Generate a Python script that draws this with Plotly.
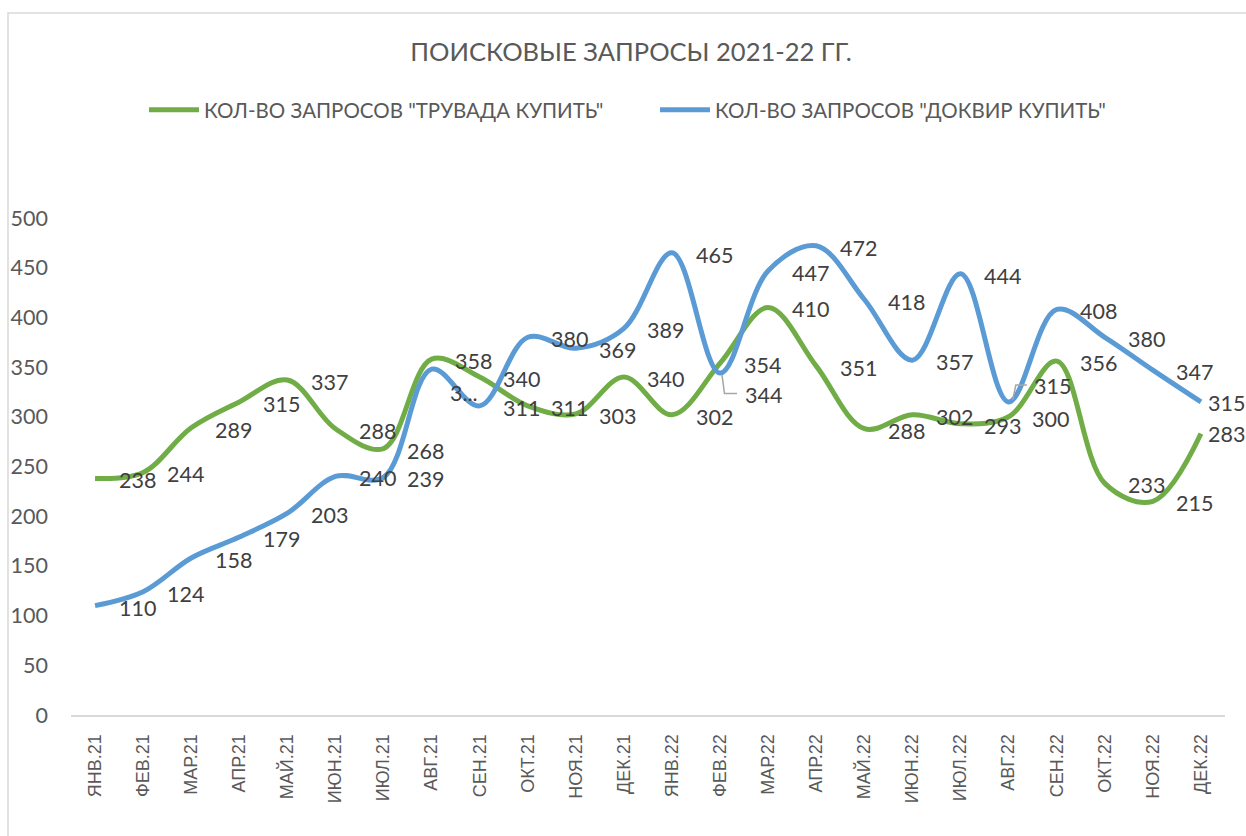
import plotly.graph_objects as go

months = ["ЯНВ.21", "ФЕВ.21", "МАР.21", "АПР.21", "МАЙ.21", "ИЮН.21", "ИЮЛ.21", "АВГ.21",
          "СЕН.21", "ОКТ.21", "НОЯ.21", "ДЕК.21", "ЯНВ.22", "ФЕВ.22", "МАР.22", "АПР.22",
          "МАЙ.22", "ИЮН.22", "ИЮЛ.22", "АВГ.22", "СЕН.22", "ОКТ.22", "НОЯ.22", "ДЕК.22"]
truvada = [238, 244, 289, 315, 337, 288, 268, 358, 340, 311, 303, 340,
           302, 354, 410, 351, 288, 302, 293, 300, 356, 233, 215, 283]
dokvir = [110, 124, 158, 179, 203, 240, 239, 348, 311, 380, 369, 389,
          465, 344, 447, 472, 418, 357, 444, 315, 408, 380, 347, 315]
name_truvada = 'КОЛ-ВО ЗАПРОСОВ "ТРУВАДА КУПИТЬ"'
name_dokvir = 'КОЛ-ВО ЗАПРОСОВ "ДОКВИР КУПИТЬ"'
title_text = "ПОИСКОВЫЕ ЗАПРОСЫ 2021-22 ГГ."

GREEN = "#70AD47"
BLUE = "#5B9BD5"
TXT = "#595959"
LBL = "#404040"
FONT = "Lato, 'Open Sans', sans-serif"

# plot-area geometry (px)
L, R, T, B = 71, 1225, 218, 715
W, H = 1246, 836
PW, PH = R - L, B - T

idx = list(range(len(months)))

fig = go.Figure()
fig.add_trace(go.Scatter(x=idx, y=truvada, mode="lines", name=name_truvada,
                         line=dict(color=GREEN, width=5, shape="spline", smoothing=1.0),
                         hoverinfo="skip"))
fig.add_trace(go.Scatter(x=idx, y=dokvir, mode="lines", name=name_dokvir,
                         line=dict(color=BLUE, width=5, shape="spline", smoothing=1.0),
                         hoverinfo="skip"))


# leader lines (offsets from the labelled points)
def leader(i, vals, pts):
    xs = [i + dx for dx, dy in pts]
    ys = [vals[i] + dy for dx, dy in pts]
    fig.add_trace(go.Scatter(x=xs, y=ys, mode="lines", showlegend=False, hoverinfo="skip",
                             line=dict(color="#A6A6A6", width=1.5)))


leader(13, dokvir, [(0.04, -2), (0.09, -20.5), (0.35, -20.5)])
leader(19, dokvir, [(0.085, 2), (0.15, 17), (0.38, 17)])


# data labels
def labels(vals, texts, special):
    for i, v in enumerate(vals):
        dx, dy = special.get(i, (42, -2))
        fig.add_annotation(x=i, y=v, text=texts[i], showarrow=False, xshift=dx, yshift=dy,
                           xanchor="center", yanchor="middle",
                           font=dict(family=FONT, size=21.5, color=LBL))


labels(truvada, [str(v) for v in truvada], {23: (26, 0)})
blue_txt = [str(v) for v in dokvir]
blue_txt[7] = "3..."
labels(dokvir, blue_txt, {7: (32, -24), 13: (43, -22), 19: (44, 16), 23: (26, -1)})

# chart-area frame (left/top edges visible)
fig.add_shape(type="rect", xref="paper", yref="paper",
              x0=(8 - L) / PW, x1=(W + 6 - L) / PW,
              y0=(B - (H + 6)) / PH, y1=(B - 13) / PH,
              line=dict(color="#D9D9D9", width=1.5), fillcolor="rgba(0,0,0,0)", layer="below")

fig.update_layout(
    width=W, height=H,
    margin=dict(l=L, r=W - R, t=T, b=H - B),
    paper_bgcolor="white", plot_bgcolor="white",
    title=dict(text=title_text, x=631 / W, xanchor="center", y=1 - 52 / H, yanchor="middle",
               xref="container", yref="container",
               font=dict(family=FONT, size=25.5, color=TXT)),
    legend=dict(orientation="h", x=(144 - L) / PW, xanchor="left",
                y=(B - 110) / PH, yanchor="middle", entrywidth=446,
                font=dict(family=FONT, size=20.5, color=TXT), itemwidth=50,
                bgcolor="rgba(0,0,0,0)"),
    showlegend=True,
)
fig.update_xaxes(range=[-0.5, 23.5], tickvals=idx, ticktext=months, tickangle=-90,
                 showline=True, linecolor="#D9D9D9", linewidth=2, showgrid=False,
                 zeroline=False, ticks="", ticklabelstandoff=10,
                 tickfont=dict(family="'Liberation Sans', Arial, sans-serif", size=18, color=TXT))
fig.update_yaxes(range=[0, 500], dtick=50, showgrid=False, zeroline=False, showline=False,
                 ticks="", ticklabelstandoff=22,
                 tickfont=dict(family=FONT, size=21.5, color=TXT))

fig.write_html("out.html", config={"displayModeBar": False},
               post_script="document.body.style.margin='0';document.body.style.overflow='hidden';")
